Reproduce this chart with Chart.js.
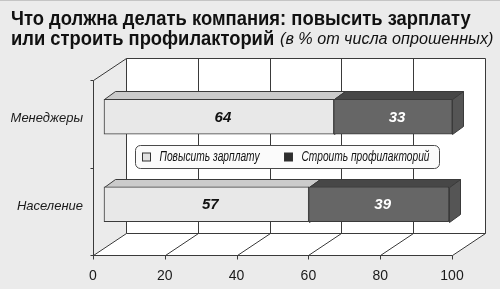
<!DOCTYPE html>
<html><head><meta charset="utf-8">
<script src="https://cdn.jsdelivr.net/npm/chart.js@4"></script>
<style>
html,body{margin:0;padding:0;background:#ebebeb;}
#wrap{position:relative;width:500px;height:289px;overflow:hidden;background:#ebebeb;}
#wrap canvas{position:absolute;left:0;top:0;}
.t{position:absolute;white-space:nowrap;transform-origin:0 0;color:#111;}
.b{font-family:'Liberation Sans',Arial,sans-serif;font-weight:bold;font-size:21px;line-height:21px;}
.i{font-family:'Liberation Sans',Arial,sans-serif;font-style:italic;font-size:16px;line-height:16px;}
#topline{position:absolute;left:0;top:0;width:500px;height:1px;background:#c4c4c4;}
</style></head>
<body>
<div id="wrap">
  <canvas id="c" width="500" height="289"></canvas>
  <div id="topline"></div>
  <span class="t b" id="t1" style="left:11px;top:7px">Что должна делать компания: повысить зарплату</span>
  <span class="t b" id="t2" style="left:11px;top:27px">или строить профилакторий</span>
  <span class="t i" id="t3" style="left:280px;top:31px">(в % от числа опрошенных)</span>
</div>
<script>
const categories = ['Менеджеры', 'Население'];
const seriesNames = ['Повысить зарплату', 'Строить профилакторий'];
const raiseSalary = [64, 57];
const buildSanatorium = [33, 39];
const xMin = 0, xMax = 100, xStep = 20;

function fit(id, w) {
  const el = document.getElementById(id);
  const nat = el.offsetWidth;
  el.style.transform = 'scaleX(' + (w / nat) + ')';
}
fit('t1', 460); fit('t2', 263); fit('t3', 213);

const FONT = "'Liberation Sans',Arial,sans-serif";
const WALL = {x: 33, y: -22};
const FRONT = {x: 11, y: -7};
const EXT = {x: 11, y: -8};
const tops = ['#cbcbcb', '#474747'];
const sides = ['#bdbdbd', '#555555'];
const labelColors = ['#111111', '#ffffff'];
const LINE = '#3a3a3a';

function poly(ctx, pts, fill, stroke) {
  ctx.beginPath();
  ctx.moveTo(pts[0][0], pts[0][1]);
  for (let i = 1; i < pts.length; i++) ctx.lineTo(pts[i][0], pts[i][1]);
  ctx.closePath();
  if (fill) { ctx.fillStyle = fill; ctx.fill(); }
  if (stroke) { ctx.strokeStyle = stroke; ctx.lineWidth = 1; ctx.stroke(); }
}
function line(ctx, x1, y1, x2, y2) {
  ctx.beginPath(); ctx.moveTo(x1, y1); ctx.lineTo(x2, y2); ctx.stroke();
}
function fitText(ctx, text, x, y, w) {
  const nat = ctx.measureText(text).width;
  ctx.save();
  ctx.translate(x, y);
  ctx.scale(w / nat, 1);
  ctx.fillText(text, 0, 0);
  ctx.restore();
}

const scene = {
  id: 'scene3d',
  beforeDraw(chart) {
    const ctx = chart.ctx;
    const {left, right, top, bottom} = chart.chartArea;
    const L = Math.round(left) + 0.5, R = Math.round(right) + 0.5;
    const T = Math.round(top) + 0.5, B = Math.round(bottom) + 0.5;
    ctx.save();
    poly(ctx, [[L, B], [R, B], [R + WALL.x, B + WALL.y], [L + WALL.x, B + WALL.y]], '#ffffff', null);
    poly(ctx, [[L + WALL.x, T + WALL.y], [R + WALL.x, T + WALL.y], [R + WALL.x, B + WALL.y], [L + WALL.x, B + WALL.y]], '#ffffff', null);
    ctx.strokeStyle = LINE; ctx.lineWidth = 1;
    const xs = chart.scales.x;
    xs.ticks.forEach(t => {
      const px = Math.round(xs.getPixelForValue(t.value)) + 0.5;
      line(ctx, px + WALL.x, T + WALL.y, px + WALL.x, B + WALL.y);
      line(ctx, px, B, px + WALL.x, B + WALL.y);
      line(ctx, px, B, px, B + 4);
    });
    line(ctx, L + WALL.x, T + WALL.y, R + WALL.x, T + WALL.y);
    line(ctx, L, B, R, B);
    line(ctx, L + WALL.x, B + WALL.y, R + WALL.x, B + WALL.y);
    line(ctx, L, T, L + WALL.x, T + WALL.y);
    line(ctx, L, T, L, B);
    const n = categories.length;
    for (let i = 0; i <= n; i++) {
      const y = Math.round(top + i * (bottom - top) / n) + 0.5;
      line(ctx, L - 3, y, L, y);
    }
    ctx.restore();
  },
  beforeDatasetsDraw(chart) {
    const ctx = chart.ctx;
    ctx.save();
    ctx.translate(FRONT.x, FRONT.y);
    const boxes = [];
    chart.data.datasets.forEach((ds, d) => {
      chart.getDatasetMeta(d).data.forEach(el => {
        const p = el.getProps(['x', 'y', 'base', 'height'], true);
        const t = Math.round(p.y - p.height / 2) + 0.5, b = Math.round(p.y + p.height / 2) + 0.5;
        const l = Math.round(Math.min(p.x, p.base)) + 0.5, r = Math.round(Math.max(p.x, p.base)) + 0.5;
        boxes.push({d, t, b, l, r});
      });
    });
    boxes.forEach(k => poly(ctx, [[k.r, k.t], [k.r + EXT.x, k.t + EXT.y], [k.r + EXT.x, k.b + EXT.y], [k.r, k.b]], sides[k.d], LINE));
    boxes.forEach(k => poly(ctx, [[k.l, k.t], [k.l + EXT.x, k.t + EXT.y], [k.r + EXT.x, k.t + EXT.y], [k.r, k.t]], tops[k.d], LINE));
  },
  afterDatasetsDraw(chart) {
    const ctx = chart.ctx;
    chart.data.datasets.forEach((ds, d) => {
      chart.getDatasetMeta(d).data.forEach((el, i) => {
        const p = el.getProps(['x', 'y', 'base'], true);
        ctx.font = 'bold italic 15px ' + FONT;
        ctx.fillStyle = labelColors[d];
        ctx.textAlign = 'center';
        ctx.textBaseline = 'middle';
        ctx.fillText(String(ds.data[i]), (p.x + p.base) / 2 + 4, p.y + 1);
      });
    });
    ctx.restore();
  },
  afterDraw(chart) {
    const ctx = chart.ctx;
    const {left, top} = chart.chartArea;
    const bx = Math.round(left) + 42.5, by = Math.round(top) + 65.5, bw = 304, bh = 23;
    ctx.save();
    ctx.beginPath();
    ctx.roundRect(bx, by, bw, bh, 5);
    ctx.fillStyle = '#fbfbfb'; ctx.fill();
    ctx.strokeStyle = '#4a4a4a'; ctx.lineWidth = 1; ctx.stroke();
    const offs = [7, 149];
    const textW = [100, 128];
    const sq = ['#e2e2e2', '#2e2e2e'];
    chart.data.datasets.forEach((ds, d) => {
      const sx = bx + offs[d], sy = by + 7.5;
      ctx.fillStyle = sq[d]; ctx.fillRect(sx, sy, 8, 8);
      ctx.strokeStyle = '#333'; ctx.strokeRect(sx, sy, 8, 8);
      ctx.fillStyle = '#111';
      ctx.font = 'italic 14px ' + FONT;
      ctx.textAlign = 'left'; ctx.textBaseline = 'middle';
      fitText(ctx, ds.label, sx + 17, by + bh / 2 + 0.5, textW[d]);
    });
    ctx.restore();
  }
};

new Chart(document.getElementById('c'), {
  type: 'bar',
  data: {
    labels: categories,
    datasets: [
      {label: seriesNames[0], data: raiseSalary, backgroundColor: '#e8e8e8', borderColor: LINE, borderWidth: 1, borderSkipped: false, barThickness: 35, clip: false},
      {label: seriesNames[1], data: buildSanatorium, backgroundColor: '#666666', borderColor: LINE, borderWidth: 1, borderSkipped: false, barThickness: 35, clip: false}
    ]
  },
  options: {
    indexAxis: 'y',
    responsive: false,
    animation: false,
    events: [],
    layout: {padding: {left: 0, right: 48, top: 80, bottom: 0}},
    plugins: {legend: {display: false}, tooltip: {enabled: false}, title: {display: false}},
    scales: {
      x: {
        stacked: true, min: xMin, max: xMax,
        grid: {display: false, drawTicks: false},
        border: {display: false},
        ticks: {stepSize: xStep, padding: 13, color: '#1a1a1a', font: {family: FONT, size: 14}, maxRotation: 0},
        afterFit(s) { s.height = 34; }
      },
      y: {
        stacked: true,
        grid: {display: false, drawTicks: false},
        border: {display: false},
        ticks: {padding: 10, labelOffset: -5, color: '#1a1a1a', font: {family: FONT, size: 13, style: 'italic'}},
        afterFit(s) { s.width = 93; }
      }
    }
  },
  plugins: [scene]
});
</script>
</body></html>
